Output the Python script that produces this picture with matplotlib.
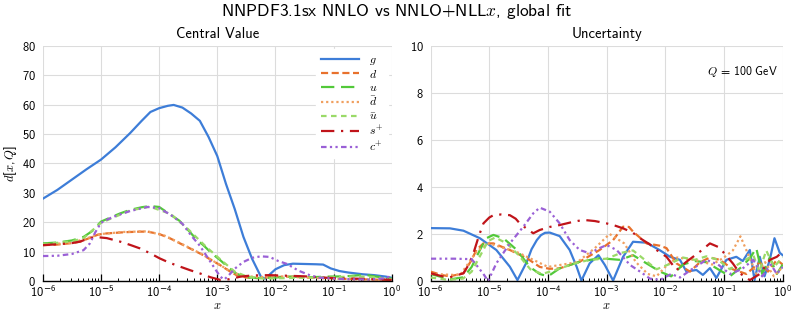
"""NNPDF3.1sx NNLO vs NNLO+NLLx: central value and uncertainty distances."""

import matplotlib

matplotlib.use("Agg")
import matplotlib.pyplot as plt
import numpy as np
from matplotlib.ticker import FuncFormatter, LogLocator, NullFormatter

plt.rcParams["font.family"] = ["cmss10", "DejaVu Sans"]
plt.rcParams["mathtext.fontset"] = "custom"
plt.rcParams["mathtext.rm"] = "cmss10"
plt.rcParams["mathtext.it"] = "cmmi10"
plt.rcParams["mathtext.sf"] = "DejaVu Sans"
plt.rcParams["mathtext.cal"] = "cmsy10"
plt.rcParams["axes.formatter.use_mathtext"] = True
plt.rcParams["axes.unicode_minus"] = False

LABELS = ["$g$", "$d$", "$u$", r"$\bar{d}$", r"$\bar{u}$", "$s^{+}$", "$c^{+}$"]
COLORS = ["#3d7dd8", "#e8712c", "#52c93a", "#f0a060", "#9ada68", "#c0141a", "#9a60d6"]
STYLES = ["-", (0, (3.2, 1.6)), (0, (6, 3)), (0, (1, 1.3)), (0, (2.5, 2)),
          (0, (6, 3, 1, 3)), (0, (2.5, 1.5, 1, 1.5, 1, 1.5))]

# central value distance, log10(x) and d[x, Q]
cv_g_lx = [-6, -5.75, -5.5, -5.25, -5, -4.75, -4.5, -4.3, -4.15, -4.0, -3.85, -3.75, -3.6,
           -3.45, -3.3, -3.15, -3.0, -2.85, -2.7, -2.55, -2.4, -2.25, -2.18, -2.1, -2.0,
           -1.85, -1.7, -1.5, -1.3, -1.18, -1.05, -0.9, -0.75, -0.5, -0.3, -0.1, 0]
cv_g = [28, 31, 34.5, 38, 41.3, 45.5, 50.3, 54.5, 57.5, 58.8, 59.6, 59.9, 59,
        57, 54.5, 49, 42.5, 33, 24.5, 15, 7.5, 1.5, 0.8, 2.2, 4,
        5.4, 5.9, 5.8, 5.7, 5.6, 4.3, 3.4, 2.9, 2.3, 2.0, 1.5, 1.1]
cv_d_lx = [-6, -5.75, -5.5, -5.36, -5.2, -5.05, -4.9, -4.6, -4.33, -4.2, -4.0, -3.81, -3.67,
           -3.53, -3.38, -3.24, -3.1, -2.95, -2.8, -2.67, -2.5, -2.3, -2.1, -1.8, -1.5,
           -1.2, -0.9, -0.6, -0.3, 0]
cv_d = [12.2, 12.4, 12.9, 13.4, 14.6, 15.8, 16.2, 16.6, 16.8, 16.8, 16.0, 14.5, 13.1,
        11.7, 10.2, 8.8, 7.1, 5.4, 3.5, 2.0, 1.2, 1.0, 1.3, 1.5, 1.3,
        1.1, 0.8, 0.6, 0.5, 0.3]
cv_u_lx = [-6, -5.75, -5.5, -5.3, -5.15, -5.0, -4.85, -4.67, -4.5, -4.3, -4.16, -4.0, -3.8,
           -3.65, -3.5, -3.35, -3.24, -3.1, -2.95, -2.8, -2.67, -2.5, -2.3, -2.0, -1.7,
           -1.4, -1.1, -0.8, -0.6, -0.45, -0.3, -0.15, 0]
cv_u = [12.8, 13.1, 13.8, 15.0, 17, 20.2, 21.5, 23, 24.2, 25.1, 25.5, 25.2, 22.5,
        20.5, 17.3, 14, 12.2, 9.5, 7.1, 4.5, 2.5, 1.3, 1.0, 1.2, 1.5,
        1.3, 1.5, 1.6, 1.9, 2.1, 1.6, 1.2, 0.8]
cv_dbar_lx = [-6, -5.5, -5.2, -5.0, -4.6, -4.2, -3.9, -3.6, -3.3, -3.0, -2.8, -2.6, -2.3,
              -2.0, -1.7, -1.3, -1.0, -0.6, -0.3, 0]
cv_dbar = [12.4, 13.0, 14.8, 16.0, 16.7, 16.9, 15.4, 12.5, 9.5, 6.0, 3.6, 1.9, 1.3,
           1.6, 1.4, 1.0, 0.8, 0.5, 0.4, 0.2]
cv_ubar_lx = [-6, -5.5, -5.3, -5.0, -4.5, -4.16, -3.8, -3.5, -3.2, -2.95, -2.7, -2.5, -2.2,
              -1.8, -1.4, -1.0, -0.6, -0.3, 0]
cv_ubar = [12.5, 13.5, 14.6, 19.8, 24.0, 25.3, 22.8, 17.6, 11.8, 7.4, 3.2, 1.6, 0.8,
           1.0, 1.2, 1.3, 1.6, 1.3, 0.6]
cv_s_lx = [-6, -5.75, -5.5, -5.36, -5.2, -5.1, -4.9, -4.67, -4.5, -4.33, -4.16, -3.99, -3.82,
           -3.64, -3.47, -3.3, -3.12, -2.95, -2.8, -2.6, -2.4, -2.1, -1.8, -1.5, -1.2,
           -0.9, -0.6, -0.3, 0]
cv_s = [12.2, 12.5, 12.9, 13.4, 14.6, 15.0, 14.6, 13.4, 12.3, 11.1, 9.5, 7.7, 6.2,
        4.9, 3.7, 2.6, 1.3, 0.4, 0.6, 1.5, 1.9, 2.0, 1.8, 1.6, 1.2,
        0.9, 0.8, 0.6, 0.4]
cv_c_lx = [-6, -5.75, -5.5, -5.3, -5.19, -5.1, -5.0, -4.8, -4.5, -4.2, -4.0, -3.8, -3.6,
           -3.45, -3.3, -3.15, -3.05, -2.95, -2.88, -2.8, -2.7, -2.55, -2.4, -2.25, -2.1,
           -1.95, -1.8, -1.6, -1.4, -1.25, -1.0, -0.7, -0.4, -0.15, -0.05, 0]
cv_c = [8.5, 8.6, 9.2, 10.5, 12.8, 16.5, 19.8, 21.8, 23.8, 25.2, 24.8, 22.5, 19.5,
        15.5, 12, 7.5, 4.5, 1.5, 0.5, 2, 4.2, 6.5, 7.9, 8.4, 8.2,
        6.8, 5.8, 3.5, 1.9, 1.2, 0.8, 0.6, 0.5, 0.9, 1.4, 0.8]

# uncertainty distance, log10(x) and d[x, Q]
un_g_lx = [-6, -5.67, -5.44, -5.16, -4.88, -4.65, -4.52, -4.36, -4.28, -4.19, -4.12, -4.05,
           -3.97, -3.8, -3.63, -3.51, -3.43, -3.29, -3.14, -3.03, -2.89, -2.72, -2.55, -2.32,
           -2.1, -1.92, -1.75, -1.64, -1.47, -1.36, -1.24, -1.13, -0.96, -0.79, -0.68, -0.56,
           -0.48, -0.39, -0.31, -0.22, -0.14, -0.05, 0]
un_g = [2.25, 2.24, 2.14, 1.82, 1.32, 0.61, 0.04, 0.82, 1.35, 1.74, 1.95, 2.05,
        2.06, 1.91, 1.32, 0.6, 0.02, 0.75, 1.1, 0.68, 0.02, 1.03, 1.67, 1.63,
        1.32, 1.03, 0.9, 0.4, 0.47, 0.26, 0.55, 0.13, 0.9, 1.03, 0.85, 1.32,
        0.04, 1.03, 0.2, 0.9, 1.82, 1.2, 1.1]
un_d_lx = [-6, -5.8, -5.67, -5.44, -5.3, -5.22, -5.1, -4.93, -4.65, -4.36, -4.14, -3.97, -3.8,
           -3.46, -3.12, -2.89, -2.72, -2.62, -2.55, -2.32, -2.09, -1.98, -1.81, -1.58, -1.41,
           -1.24, -1.07, -0.85, -0.62, -0.39, -0.25, -0.1, 0]
un_d = [0.4, 0.25, 0.2, 0.33, 0.9, 1.32, 1.6, 1.6, 1.32, 0.97, 0.6, 0.52, 0.54,
        0.82, 1.32, 1.74, 2.31, 2.3, 2.1, 1.6, 1.5, 1.4, 0.75, 0.4, 0.8,
        1.0, 0.9, 0.5, 0.3, 0.8, 0.4, 0.9, 0.7]
un_u_lx = [-6, -5.67, -5.44, -5.3, -5.16, -5.05, -4.93, -4.76, -4.53, -4.31, -4.14, -4.0, -3.8,
           -3.46, -3.12, -2.77, -2.55, -2.32, -2.09, -1.9, -1.7, -1.5, -1.3, -1.1, -0.9,
           -0.7, -0.55, -0.45, -0.35, -0.22, -0.1, 0]
un_u = [0.3, 0.07, 0.16, 0.6, 1.32, 1.82, 1.96, 1.82, 1.32, 0.6, 0.3, 0.2, 0.54,
        0.82, 0.97, 0.9, 1.1, 0.75, 0.4, 0.2, 0.7, 0.85, 0.8, 0.5, 0.2,
        0.6, 1.0, 1.4, 0.3, 1.0, 0.3, 0.7]
un_dbar_lx = [-6, -5.5, -5.2, -5.0, -4.5, -4.0, -3.5, -3.2, -2.95, -2.7, -2.5, -2.3, -2.15,
              -2.0, -1.8, -1.5, -1.2, -1.0, -0.85, -0.72, -0.6, -0.45, -0.3, -0.15, 0]
un_dbar = [0.3, 0.25, 1.3, 1.6, 1.2, 0.6, 0.8, 1.4, 2.0, 1.6, 0.8, 0.3, 0.2,
           0.6, 1.0, 0.9, 0.7, 1.0, 1.3, 1.9, 1.2, 0.3, 0.8, 0.2, 0.6]
un_ubar_lx = [-6, -5.7, -5.45, -5.3, -5.15, -5.02, -4.9, -4.7, -4.5, -4.3, -4.1, -3.9, -3.6,
              -3.3, -3.0, -2.75, -2.55, -2.35, -2.15, -1.95, -1.7, -1.5, -1.3, -1.1, -0.9,
              -0.7, -0.5, -0.4, -0.28, -0.15, 0]
un_ubar = [0.15, 0.05, 0.1, 0.4, 1.1, 1.7, 1.85, 1.6, 1.1, 0.5, 0.3, 0.45, 0.7,
           0.9, 0.95, 1.2, 1.3, 0.9, 0.5, 0.7, 1.0, 0.9, 1.05, 0.9, 0.5,
           0.8, 1.1, 0.4, 1.3, 0.6, 1.0]
un_s_lx = [-6, -5.8, -5.67, -5.44, -5.35, -5.27, -5.18, -5.1, -5.0, -4.93, -4.8, -4.65, -4.55,
           -4.48, -4.35, -4.25, -4.14, -3.97, -3.8, -3.6, -3.4, -3.2, -3.0, -2.85, -2.72,
           -2.55, -2.43, -2.26, -2.15, -1.98, -1.81, -1.64, -1.41, -1.24, -1.1, -1.02, -0.85,
           -0.73, -0.56, -0.39, -0.22, -0.1, 0]
un_s = [0.33, 0.2, 0.16, 0.33, 0.7, 1.18, 1.9, 2.45, 2.7, 2.8, 2.83, 2.8, 2.65,
        2.45, 2.2, 2.03, 2.17, 2.3, 2.38, 2.5, 2.6, 2.55, 2.45, 2.35, 2.24,
        2.05, 1.82, 1.55, 1.32, 1.03, 0.47, 0.82, 1.25, 1.6, 1.45, 1.25, 0.75,
        0.33, 0.04, 0.3, 0.9, 1.03, 1.25]
un_c_lx = [-6, -5.6, -5.3, -5.22, -5.1, -5.02, -4.88, -4.65, -4.42, -4.25, -4.14, -3.97, -3.8,
           -3.63, -3.46, -3.29, -3.12, -3.0, -2.83, -2.6, -2.43, -2.26, -2.09, -1.9, -1.75,
           -1.55, -1.3, -1.1, -0.9, -0.7, -0.5, -0.35, -0.2, -0.1, 0]
un_c = [0.95, 0.95, 0.93, 0.68, 0.3, 0.0, 0.75, 1.6, 2.31, 2.88, 3.12, 2.95, 2.45,
        1.74, 1.32, 1.18, 1.4, 1.53, 1.32, 0.68, 0.4, 0.1, 0.05, 0.3, 0.15,
        0.5, 0.9, 0.7, 0.3, 0.5, 0.9, 0.2, 0.7, 0.3, 0.6]

CENTRAL = [(cv_g_lx, cv_g), (cv_d_lx, cv_d), (cv_u_lx, cv_u), (cv_dbar_lx, cv_dbar),
           (cv_ubar_lx, cv_ubar), (cv_s_lx, cv_s), (cv_c_lx, cv_c)]
UNCERT = [(un_g_lx, un_g), (un_d_lx, un_d), (un_u_lx, un_u), (un_dbar_lx, un_dbar),
          (un_ubar_lx, un_ubar), (un_s_lx, un_s), (un_c_lx, un_c)]


def decade_label(value, pos):
    exp = int(round(np.log10(value)))
    if exp < 0:
        return r"$\mathdefault{10}^{\mathsf{-}\mathdefault{%d}}$" % (-exp)
    return r"$\mathdefault{10}^{\mathdefault{%d}}$" % exp


def style_axis(ax, ymax, ystep):
    ax.set_xscale("log")
    ax.set_xlim(1e-6, 1)
    ax.set_ylim(0, ymax)
    ax.set_yticks(np.arange(0, ymax + ystep / 2, ystep))
    ax.xaxis.set_major_locator(LogLocator(base=10, numticks=10))
    ax.xaxis.set_major_formatter(FuncFormatter(decade_label))
    ax.xaxis.set_minor_locator(LogLocator(base=10, subs=np.arange(2, 10), numticks=20))
    ax.xaxis.set_minor_formatter(NullFormatter())
    ax.grid(True, which="major", color="#dcdcdc", lw=0.8)
    ax.set_axisbelow(True)
    for side in ("left", "top", "right"):
        ax.spines[side].set_visible(False)
    ax.spines["bottom"].set_color("black")
    ax.spines["bottom"].set_linewidth(1.0)
    ax.tick_params(axis="x", which="major", direction="in", length=5, width=0.9,
                   labelsize=9, pad=3)
    ax.tick_params(axis="x", which="minor", direction="in", length=2.5, width=0.7)
    ax.tick_params(axis="y", length=0, labelsize=9, pad=5)
    ax.set_xlabel("$x$", fontsize=9, labelpad=0)


fig = plt.figure(figsize=(7.93, 3.14), dpi=100)
ax_cv = fig.add_axes([0.054, 0.105, 0.440, 0.749])
ax_un = fig.add_axes([0.543, 0.105, 0.444, 0.749])

for (lx, vals), label, color, ls in zip(CENTRAL, LABELS, COLORS, STYLES):
    ax_cv.plot(10 ** np.asarray(lx), vals, color=color, ls=ls, lw=1.6, label=label)
for (lx, vals), color, ls in zip(UNCERT, COLORS, STYLES):
    ax_un.plot(10 ** np.asarray(lx), vals, color=color, ls=ls, lw=1.6)

style_axis(ax_cv, 80, 10)
style_axis(ax_un, 10, 2)
ax_cv.set_ylabel("$d[x,Q]$", fontsize=9, labelpad=2)
ax_cv.set_title("Central Value", fontsize=10.5, pad=6)
ax_un.set_title("Uncertainty", fontsize=10.5, pad=6)
ax_un.text(0.985, 0.89, "$Q$ = 100 GeV", transform=ax_un.transAxes,
           ha="right", va="center", fontsize=8.5)

leg = ax_cv.legend(loc="upper right", fontsize=8.5, handlelength=3.2, labelspacing=0.12,
                   frameon=True, framealpha=1.0, edgecolor="white", borderaxespad=0.3,
                   handletextpad=0.9)

fig.suptitle(r"NNPDF3.1sx NNLO vs NNLO+NLL$x$, global fit", fontsize=12.5, y=0.995)
fig.savefig("out.png", dpi=100)
plt.close(fig)
